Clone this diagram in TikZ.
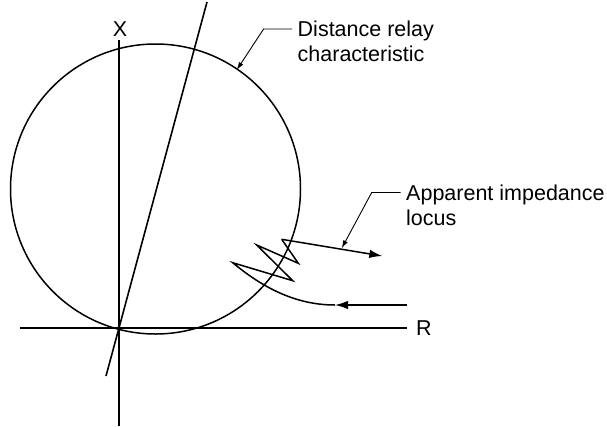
\documentclass[tikz,border=0pt]{standalone}
\usepackage{fontspec}
\setmainfont{Liberation Sans}
\usetikzlibrary{arrows.meta,calc}
\begin{document}
\begin{tikzpicture}[x=1pt,y=-1pt,
  axis/.style={line width=1.6pt},
  curve/.style={line width=1.5pt},
  leader/.style={line width=0.9pt,-{Latex[length=8pt,width=5pt]}},
  bigarrow/.style={line width=1.5pt,-{Latex[length=13pt,width=8.5pt]}},
  lbl/.style={font=\fontsize{21.5}{25}\selectfont,inner sep=0pt},
]
\useasboundingbox (0,0) rectangle (607,426);
% axes
\draw[axis] (119,40) -- (119,426);
\draw[axis] (20,328) -- (407,328);
\node[lbl] (X) at (120,29.5) {X};
\node[lbl] (R) at (424,328) {R};
% relay characteristic
\draw[curve] (155.5,189) circle[radius=145pt];
\draw[axis] (106,376) -- (207,2);
% labels (base anchor = baseline of last line)
\node[lbl,align=left,anchor=base west] (dist) at (297.5,61.5) {Distance relay\\characteristic};
\node[lbl,align=left,anchor=base west] (app) at (406,225) {Apparent impedance\\locus};
\coordinate (t1) at (236.7,70);
\coordinate (t2) at (341.7,248.3);
\draw[leader] ($(dist.base west)+(-5.5,-32.5)$) -- ++(-28.4,0) -- (t1);
\draw[leader] ($(app.base west)+(-5.3,-32.5)$) -- ++(-29,0) -- (t2);
% impedance locus
\coordinate (inS) at (407,305);
\coordinate (inE) at (335,305);
\coordinate (z0) at (232.7,262.7);
\coordinate (z1) at (292.7,280.7);
\coordinate (z2) at (256.7,245);
\coordinate (z3) at (298.3,263.3);
\coordinate (z4) at (281.7,239.3);
\coordinate (out) at (382.3,256);
\draw[bigarrow] (inS) -- (inE);
\draw[curve] (inE) .. controls (295,305) and (262,287) .. (z0) -- (z1) -- (z2) -- (z3) -- (z4);
\draw[bigarrow] (z4) -- (out);
\end{tikzpicture}
\end{document}
